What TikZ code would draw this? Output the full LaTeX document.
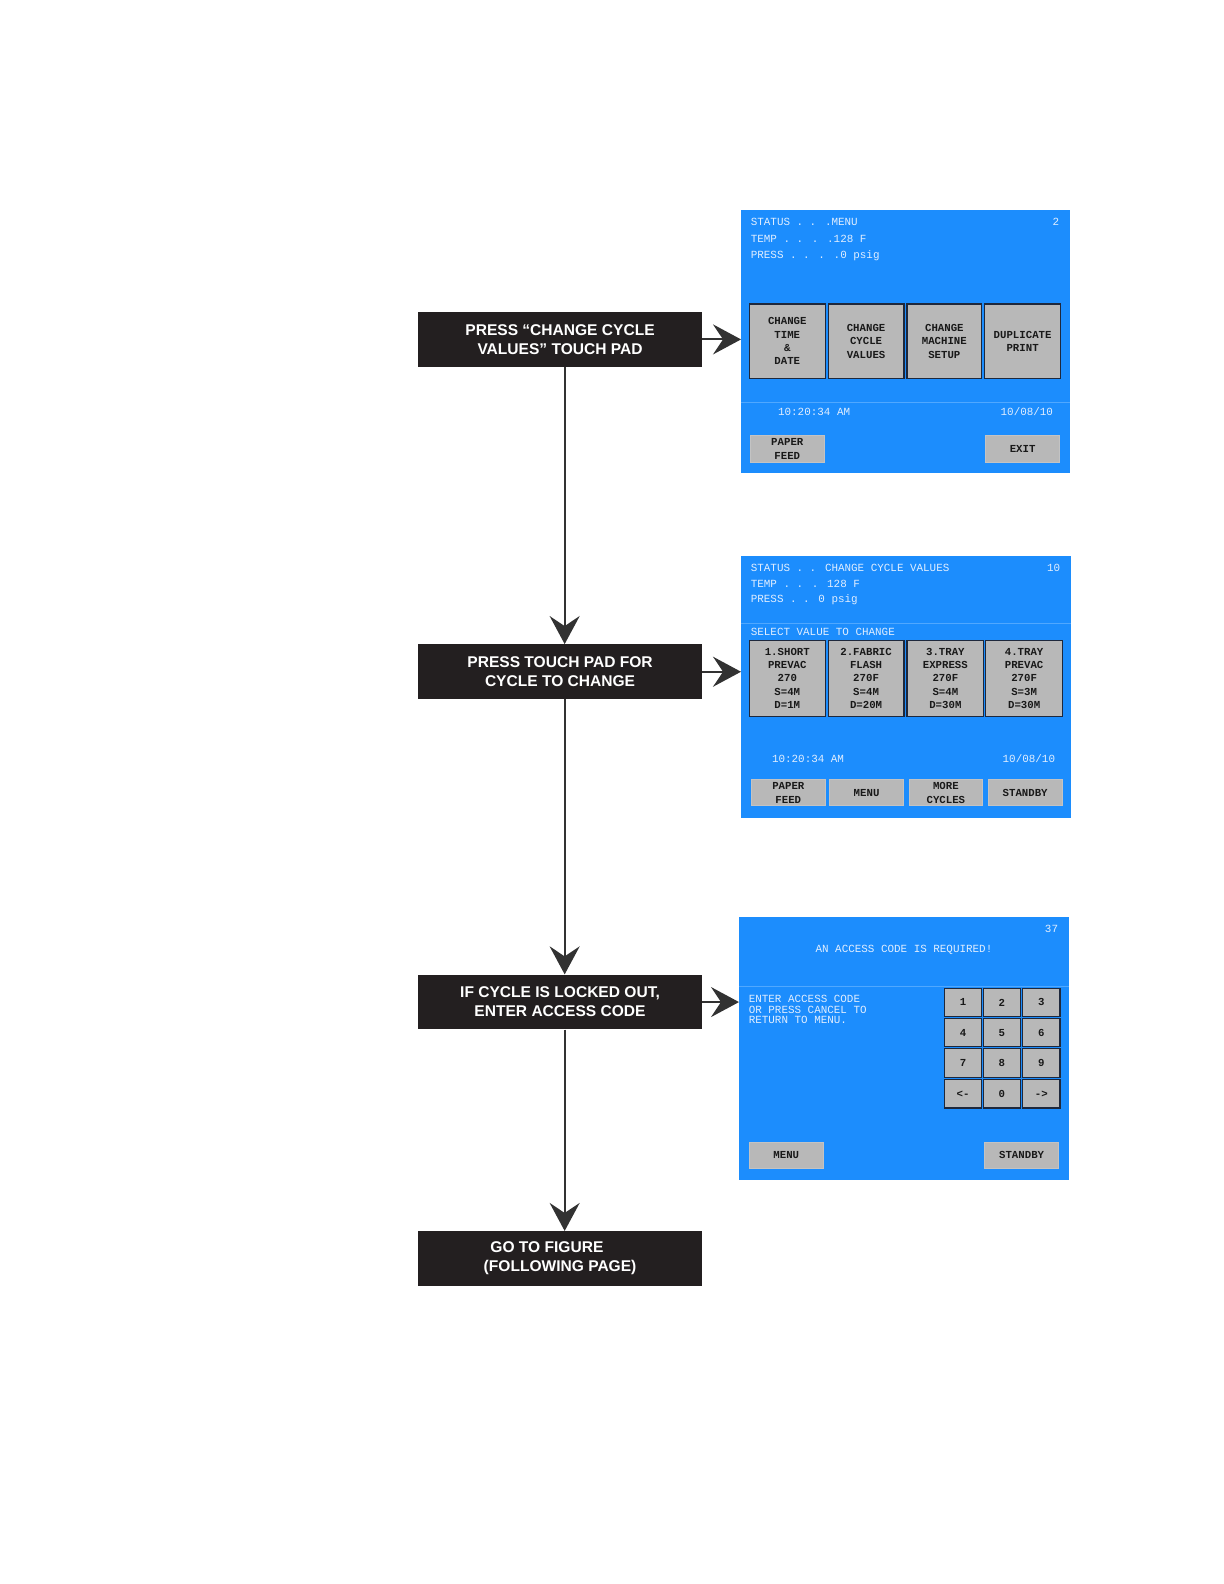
\documentclass[tikz,border=0pt]{standalone}
\usepackage{fontspec}
\setmainfont{Liberation Sans}
\newfontfamily\scrfont{Liberation Mono}
\usetikzlibrary{arrows.meta}
\definecolor{scrblue}{RGB}{28,141,253}
\definecolor{scrline}{RGB}{80,168,255}
\definecolor{btngrey}{RGB}{184,184,184}
\definecolor{btnedge}{RGB}{30,40,60}
\definecolor{boxblk}{RGB}{35,31,32}
\definecolor{scrtxt}{RGB}{225,238,255}
\definecolor{btntxt}{RGB}{25,25,25}
\definecolor{lineclr}{RGB}{50,50,50}
\begin{document}
\begin{tikzpicture}[x=0.5pt,y=-0.5pt,scale=1.01,
  every node/.append style={transform shape},
  stepbox/.style={fill=boxblk, text=white, font=\bfseries\fontsize{7.7}{9.5}\selectfont,
    align=center, inner sep=0pt, minimum width=140.5pt, minimum height=27pt},
  screen/.style={fill=scrblue, inner sep=0pt, minimum width=163pt, minimum height=130pt},
  stxt/.style={text=scrtxt, font=\scrfont\fontsize{5.4}{6}\selectfont, inner sep=0pt},
  btn/.style={fill=btngrey, draw=btnedge, line width=0.6pt, inner sep=0pt,
    text=btntxt, font=\scrfont\bfseries\fontsize{5.3}{6.6}\selectfont, align=center},
  lbtn/.style={fill=btngrey, draw=btngrey!85!white, line width=0.5pt, inner sep=0pt,
    text=btntxt, font=\scrfont\bfseries\fontsize{5.3}{6.6}\selectfont, align=center,
    minimum width=36.5pt, minimum height=13pt},
  arr/.style={draw=lineclr, line width=1pt, -{Stealth[length=14pt,width=15pt,inset=5pt]}},
]
\useasboundingbox (0,0) rectangle (1211.88,1568.32);

% ---- step boxes ----
\node[stepbox] (b1) at (554.5,336) {PRESS “CHANGE CYCLE\\VALUES” TOUCH PAD};
\node[stepbox] (b2) at (554.5,665) {PRESS TOUCH PAD FOR\\CYCLE TO CHANGE};
\node[stepbox] (b3) at (554.5,992) {IF CYCLE IS LOCKED OUT,\\ENTER ACCESS CODE};
\node[stepbox] (b4) at (554.5,1246) {GO TO FIGURE\rule{13pt}{0pt}\\(FOLLOWING PAGE)};

% ---- screen 1 ----
\node[screen, minimum width=162.5pt] (s1) at (896.5,338) {};
\node[stxt, anchor=west] (s1a) at (743,220) {STATUS . . .MENU};
\node[stxt, anchor=east] (s1n) at (1049,220) {2};
\node[stxt, anchor=west] (s1b) at (743,237) {TEMP . . . .128 F};
\node[stxt, anchor=west] (s1c) at (743,253) {PRESS . . . .0 psig};
\node[btn, minimum width=37.5pt, minimum height=37pt] (s1k1) at (779.5,338) {CHANGE\\TIME\\\&\\DATE};
\node[btn, minimum width=37.5pt, minimum height=37pt] (s1k2) at (857.5,338) {CHANGE\\CYCLE\\VALUES};
\node[btn, minimum width=37pt, minimum height=37pt] (s1k3) at (935,338) {CHANGE\\MACHINE\\SETUP};
\node[btn, minimum width=37.5pt, minimum height=37pt] (s1k4) at (1012.5,338) {DUPLICATE\\PRINT};
\draw[scrline, line width=0.5pt] (s1.west |- 0,399) -- (s1.east |- 0,399);
\node[stxt, anchor=west] (s1t) at (770,408) {10:20:34 AM};
\node[stxt, anchor=east] (s1d) at (1043,408) {10/08/10};
\node[lbtn] (s1p) at (779.5,444.5) {PAPER\\FEED};
\node[lbtn] (s1x) at (1012.5,444.5) {EXIT};

% ---- screen 2 ----
\node[screen] (s2) at (897,680) {};
\node[stxt, anchor=west] (s2a) at (743,562) {STATUS . . CHANGE CYCLE VALUES};
\node[stxt, anchor=east] (s2n) at (1050,562) {10};
\node[stxt, anchor=west] (s2b) at (743,578) {TEMP . . . 128 F};
\node[stxt, anchor=west] (s2c) at (743,594) {PRESS  . . 0 psig};
\draw[scrline, line width=0.5pt] (s2.west |- 0,617) -- (s2.east |- 0,617);
\node[stxt, anchor=west] (s2s) at (743,626) {SELECT VALUE TO CHANGE};
\begin{scope}[every node/.append style={font=\scrfont\bfseries\fontsize{5.3}{6.75}\selectfont}]
\node[btn, minimum width=37.5pt, minimum height=37.5pt] (s2k1) at (779.5,671.5) {1.SHORT\\PREVAC\\270\\S=4M\\D=1M};
\node[btn, minimum width=37.5pt, minimum height=37.5pt] (s2k2) at (857.5,671.5) {2.FABRIC\\FLASH\\270F\\S=4M\\D=20M};
\node[btn, minimum width=38pt, minimum height=37.5pt] (s2k3) at (936,671.5) {3.TRAY\\EXPRESS\\270F\\S=4M\\D=30M};
\node[btn, minimum width=38pt, minimum height=37.5pt] (s2k4) at (1014,671.5) {4.TRAY\\PREVAC\\270F\\S=3M\\D=30M};
\end{scope}
\node[stxt, anchor=west] (s2t) at (764,751) {10:20:34 AM};
\node[stxt, anchor=east] (s2d) at (1045,751) {10/08/10};
\node[lbtn] (s2p) at (780.5,785) {PAPER\\FEED};
\node[lbtn] (s2m) at (858,785) {MENU};
\node[lbtn] (s2c2) at (936.5,785) {MORE\\CYCLES};
\node[lbtn] (s2sb) at (1015,785) {STANDBY};

% ---- screen 3 ----
\node[screen] (s3) at (895,1038) {};
\node[stxt, anchor=east] (s3n) at (1048,920) {37};
\node[stxt] (s3h) at (895,940) {AN ACCESS CODE IS REQUIRED!};
\draw[scrline, line width=0.5pt] (s3.west |- 0,977) -- (s3.east |- 0,977);
\node[stxt, anchor=north west, align=left, font=\scrfont\fontsize{5.4}{5.3}\selectfont] (s3m) at (741,985) {ENTER ACCESS CODE\\OR PRESS CANCEL TO\\RETURN TO MENU.};
\begin{scope}[every node/.append style={btn, minimum width=18.5pt, minimum height=14pt}]
\node (k1) at (953.5,992.5) {1};
\node (k2) at (992,992.5) {2};
\node (k3) at (1031,992.5) {3};
\node (k4) at (953.5,1022.5) {4};
\node (k5) at (992,1022.5) {5};
\node (k6) at (1031,1022.5) {6};
\node (k7) at (953.5,1052.5) {7};
\node (k8) at (992,1052.5) {8};
\node (k9) at (1031,1052.5) {9};
\node (kl) at (953.5,1083) {<-};
\node (k0) at (992,1083) {0};
\node (kr) at (1031,1083) {->};
\end{scope}
\node[lbtn] (s3m2) at (778.5,1144) {MENU};
\node[lbtn] (s3sb) at (1011.5,1144) {STANDBY};

% ---- connectors ----
\draw[arr] ([xshift=2.25pt]b1.south) -- ([xshift=2.25pt]b2.north);
\draw[arr] ([xshift=2.25pt]b2.south) -- ([xshift=2.25pt]b3.north);
\draw[arr] ([xshift=2.25pt]b3.south) -- ([xshift=2.25pt]b4.north);
\draw[arr] (b1.east) -- (b1.east -| s1.west);
\draw[arr] (b2.east) -- (b2.east -| s2.west);
\draw[arr] (b3.east) -- (b3.east -| s3.west);
\end{tikzpicture}
\end{document}
